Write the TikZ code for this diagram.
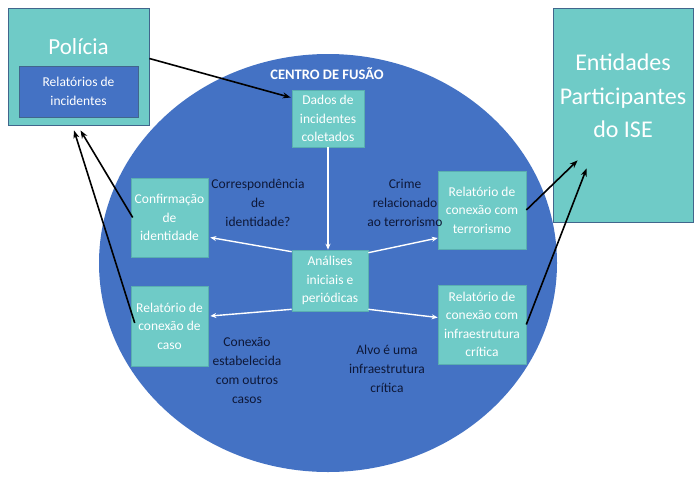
\documentclass[tikz,border=0pt]{standalone}
\usepackage{fontspec}
\setmainfont{Carlito}
\usetikzlibrary{arrows.meta,calc,shapes.geometric}
\definecolor{fusblue}{HTML}{4472C4}
\definecolor{fusteal}{HTML}{6FCBC7}
\definecolor{tealedge}{HTML}{5AAFB0}
\definecolor{slateedge}{HTML}{41668C}
\definecolor{navytxt}{HTML}{0E1838}
\tikzset{
  tealbox/.style={rectangle, fill=fusteal, draw=tealedge, line width=0.6pt, inner sep=0pt, align=center, text=white, font=\fontsize{13.5}{18.5}\selectfont},
  bigbox/.style={rectangle, fill=fusteal, draw=slateedge, line width=0.8pt, inner sep=0pt},
  innerbox/.style={rectangle, fill=fusblue, draw=slateedge, line width=0.8pt, inner sep=0pt, align=center, text=white, font=\fontsize{13.5}{19}\selectfont},
  lbl/.style={align=center, text=navytxt, inner sep=0pt, font=\fontsize{13.5}{19.3}\selectfont},
  blackarrow/.style={draw=black, line width=1.6pt, -{Stealth[length=8pt,width=6pt]}},
  whitearrow/.style={draw=white, line width=1.4pt, -{Stealth[length=6pt,width=5pt]}}
}
\begin{document}
\begin{tikzpicture}[x=1pt,y=-1pt]
\useasboundingbox (0,0) rectangle (700,477);
\fill[white] (0,0) rectangle (700,477);
% big ellipse
\node (centro) [ellipse, fill=fusblue, minimum width=458pt, minimum height=418pt, inner sep=0pt] at (328,263) {};
\node (centrotitle) [text=white, font=\fontsize{14.5}{17}\selectfont\bfseries, inner sep=0pt] at (327,74) {CENTRO DE FUSÃO};
% Policia
\node (policia) [bigbox, minimum width=141pt, minimum height=117pt] at (78.5,66.5) {};
\node (policiatitle) [text=white, font=\fontsize{23}{27}\selectfont, inner sep=0pt] at (78.5,47) {Polícia};
\node (relinc) [innerbox, minimum width=119pt, minimum height=51pt] at (78.5,91.5) {Relatórios de\\incidentes};
% Entidades
\node (entidades) [bigbox, minimum width=140pt, minimum height=214pt] at (623,115) {};
\node (entidadestxt) [align=center, text=white, font=\fontsize{24}{33.5}\selectfont, inner sep=0pt] at (623,96) {Entidades\\Participantes\\do ISE};
% inner boxes
\node (dados) [tealbox, minimum width=72pt, minimum height=57pt] at (328,118.5) {Dados de\\incidentes\\coletados};
\node (analises) [tealbox, minimum width=76pt, minimum height=61pt] at (330,280.5) {Análises\\iniciais e\\periódicas};
\node (confirm) [tealbox, minimum width=77pt, minimum height=79pt] at (169.5,217.5) {Confirmação\\de\\identidade};
\node (caso) [tealbox, minimum width=77pt, minimum height=80pt] at (169.5,326) {Relatório de\\conexão de\\caso};
\node (terror) [tealbox, minimum width=88pt, minimum height=78pt] at (482,210) {Relatório de\\conexão com\\terrorismo};
\node (infra) [tealbox, minimum width=88pt, minimum height=79pt] at (482,324.5) {Relatório de\\conexão com\\infraestrutura\\crítica};
% labels
\node (lblcorr) [lbl] at (258,203) {Correspondência\\de\\identidade?};
\node (lblcrime) [lbl] at (405,203) {Crime\\relacionado\\ao terrorismo};
\node (lblcon) [lbl] at (247,370.5) {Conexão\\estabelecida\\com outros\\casos};
\node (lblalvo) [lbl] at (387,369) {Alvo é uma\\infraestrutura\\crítica};
% white arrows
\draw[whitearrow] (dados.south) -- (dados.south |- analises.north);
\draw[whitearrow] ([yshift=-2pt]analises.north west) -- ([xshift=2pt,yshift=-20pt]confirm.east);
\draw[whitearrow] ([yshift=2pt]analises.south west) -- ([xshift=2pt,yshift=10pt]caso.east);
\draw[whitearrow] ([yshift=-3pt]analises.north east) -- ([yshift=-28pt]terror.west);
\draw[whitearrow] ([yshift=2pt]analises.south east) -- ([yshift=7pt]infra.west);
% black arrows
\draw[blackarrow] ([yshift=8pt]policia.east) -- ([xshift=-1pt,yshift=21pt]dados.west);
\draw[blackarrow] ([xshift=2pt]confirm.west) -- ([xshift=2pt,yshift=-5pt]policia.south);
\draw[blackarrow] ([xshift=4pt,yshift=3pt]caso.west) -- ([xshift=-4.5pt,yshift=-5pt]policia.south);
\draw[blackarrow] (terror.east) -- ([xshift=25pt,yshift=62pt]entidades.south west);
\draw[blackarrow] (infra.east) -- ([xshift=34pt,yshift=54pt]entidades.south west);
\end{tikzpicture}
\end{document}
